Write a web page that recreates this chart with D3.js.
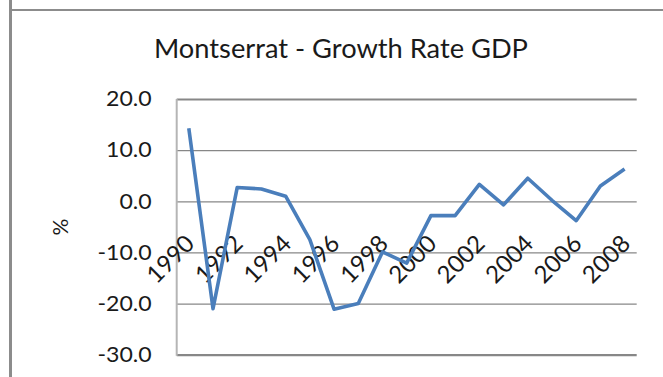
<!DOCTYPE html>
<html>
<head>
<meta charset="utf-8">
<script src="https://cdn.jsdelivr.net/npm/d3@7"></script>
<style>
  html, body { margin: 0; padding: 0; background: #fff; }
  svg { display: block; }
  text { font-family: Lato, "Open Sans", sans-serif; fill: #1a1a1a; }
</style>
</head>
<body>
<script>
const titleText = "Montserrat - Growth Rate GDP";
const yAxisTitle = "%";
const years = [1990,1991,1992,1993,1994,1995,1996,1997,1998,1999,2000,2001,2002,2003,2004,2005,2006,2007,2008];
const growth = [14.3,-21.0,2.7,2.4,1.0,-7.5,-21.1,-20.0,-9.9,-12.1,-2.8,-2.8,3.3,-0.7,4.5,0.2,-3.8,3.0,6.3];
const yTicks = [-30,-20,-10,0,10,20];
const yTickLabels = ["-30.0","-20.0","-10.0","0.0","10.0","20.0"];
const xTickYears = [1990,1992,1994,1996,1998,2000,2002,2004,2006,2008];

const W = 663, H = 377;
const plot = {left: 176.7, right: 636.7, top: 99, bottom: 354.7};

const svg = d3.select("body").append("svg").attr("width", W).attr("height", H);
svg.append("rect").attr("width", W).attr("height", H).attr("fill", "#fff");

// outer chart frame (partly cut off)
svg.append("line").attr("x1", 10.5).attr("x2", 10.5).attr("y1", 0).attr("y2", H)
  .attr("stroke", "#8c8c8c").attr("stroke-width", 3);
svg.append("line").attr("x1", 9).attr("x2", W).attr("y1", 10).attr("y2", 10)
  .attr("stroke", "#8c8c8c").attr("stroke-width", 2);

const x = d3.scalePoint().domain(years).range([plot.left, plot.right]).padding(0.5);
const y = d3.scaleLinear().domain([-30, 20]).range([plot.bottom, plot.top]);

// gridlines + y labels
const yAxis = d3.axisLeft(y).tickValues(yTicks)
  .tickSize(-(plot.right - plot.left)).tickPadding(25)
  .tickFormat((d, i) => yTickLabels[yTicks.indexOf(d)]);
const gy = svg.append("g").attr("transform", `translate(${plot.left},0)`).call(yAxis);
gy.select(".domain").remove();
gy.selectAll(".tick line")
  .attr("stroke", "#878787")
  .attr("stroke-width", d => (d === -30 ? 2.2 : (d === 20 ? 1.8 : 1.3)));
gy.selectAll(".tick text")
  .attr("font-size", 21).attr("fill", "#1e1e1e")
  .style("font-family", "Lato, sans-serif")
  .each(function() {
    const l = this.getComputedTextLength();
    d3.select(this).attr("textLength", l * 1.1).attr("lengthAdjust", "spacingAndGlyphs");
  });

// vertical axis line
svg.append("line").attr("x1", plot.left).attr("x2", plot.left)
  .attr("y1", plot.top).attr("y2", plot.bottom + 1)
  .attr("stroke", "#b5b5b5").attr("stroke-width", 2);

// x labels (rotated)
const xAxis = d3.axisBottom(x).tickValues(xTickYears).tickSize(0).tickPadding(0);
const gx = svg.append("g").attr("transform", `translate(0,259)`).call(xAxis);
gx.select(".domain").remove();
gx.selectAll(".tick text")
  .attr("font-size", 24).attr("fill", "#1e1e1e")
  .style("font-family", "Lato, sans-serif")
  .attr("y", 0).attr("dy", "0.35em")
  .attr("text-anchor", "middle")
  .attr("transform", "translate(-19,0) rotate(-45)");

// line series
const line = d3.line().x((d, i) => x(years[i])).y(d => y(d));
svg.append("path").datum(growth)
  .attr("d", line)
  .attr("fill", "none")
  .attr("stroke", "#4a7ebb")
  .attr("stroke-width", 3.6)
  .attr("stroke-linejoin", "round")
  .attr("stroke-linecap", "butt");

// title
const t = svg.append("text").attr("x", 341).attr("y", 58)
  .attr("text-anchor", "middle").attr("font-size", 26.5)
  .attr("fill", "#1a1a1a")
  .text(titleText);
t.attr("textLength", 374).attr("lengthAdjust", "spacingAndGlyphs");

// y axis title
svg.append("text")
  .attr("transform", "translate(61,227) rotate(-90)")
  .attr("text-anchor", "middle").attr("dy", "0.35em")
  .attr("font-size", 21).attr("fill", "#1e1e1e")
  .text(yAxisTitle);
</script>
</body>
</html>
